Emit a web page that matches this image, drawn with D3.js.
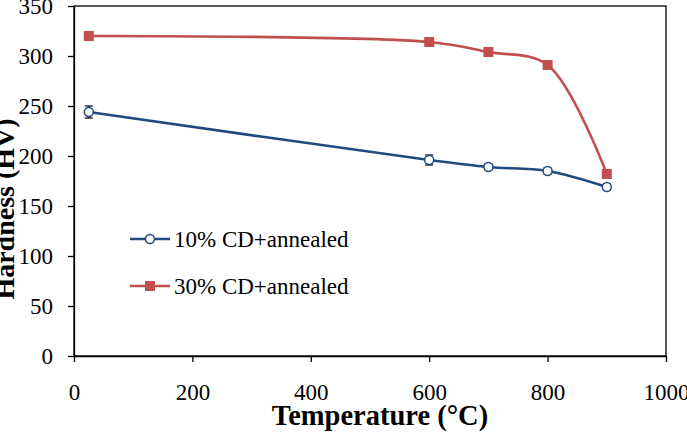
<!DOCTYPE html>
<html>
<head>
<meta charset="utf-8">
<script src="https://cdn.jsdelivr.net/npm/d3@7"></script>
<style>
    body { margin: 0; background: #fff; }
</style>
</head>
<body>
<div id="chart"></div>
<script>
// data
const temps = [25, 600, 700, 800, 900];
const hardness10 = [244, 196, 189, 185, 169];
const err10 = [6, 5, 3, 3, 3];
const hardness30 = [320, 314, 304, 291, 182];
const err30 = [3, 3, 3, 3, 3];
const seriesNames = ["10% CD+annealed", "30% CD+annealed"];
const xTicks = [0, 200, 400, 600, 800, 1000];
const yTicks = [0, 50, 100, 150, 200, 250, 300, 350];

const FONT = "'Liberation Serif', 'Times New Roman', Times, serif";
const W = 687, H = 438;
const margin = { top: 6, right: 21, bottom: 82, left: 74 },
    width = W - margin.left - margin.right,
    height = H - margin.top - margin.bottom;

const blue = "#1f4a7e", red = "#c0504d";

const svg = d3.select("#chart")
    .append("svg")
    .attr("width", W)
    .attr("height", H)
    .attr("font-family", FONT);

const g = svg.append("g")
    .attr("transform", `translate(${margin.left},${margin.top})`);

const x = d3.scaleLinear().domain([0, 1000]).range([0, width]);
const y = d3.scaleLinear().domain([0, 350]).range([height, 0]);

// frame
g.append("rect")
    .attr("width", width)
    .attr("height", height)
    .attr("fill", "none")
    .attr("stroke", "#000")
    .attr("stroke-width", 1.3);

// axes
const xAxis = g.append("g")
    .attr("transform", `translate(0,${height})`)
    .call(d3.axisBottom(x).tickValues(xTicks).tickFormat(d3.format("d"))
        .tickSize(6).tickPadding(22).tickSizeOuter(0));
const yAxis = g.append("g")
    .call(d3.axisLeft(y).tickValues(yTicks).tickFormat(d3.format("d"))
        .tickSize(6).tickPadding(15).tickSizeOuter(0));

[xAxis, yAxis].forEach(a => {
    a.attr("font-family", FONT).attr("font-size", 23);
    a.select(".domain").attr("stroke", "#000").attr("stroke-width", 1.3);
    a.selectAll(".tick line").attr("stroke", "#000").attr("stroke-width", 1.3);
    a.selectAll(".tick text").attr("fill", "#000");
});

// axis titles
svg.append("text")
    .attr("x", 380)
    .attr("y", 425)
    .attr("text-anchor", "middle")
    .attr("font-weight", "bold")
    .attr("font-size", 28.5)
    .text("Temperature (°C)");

svg.append("text")
    .attr("transform", "translate(14,209) rotate(-90)")
    .attr("text-anchor", "middle")
    .attr("font-weight", "bold")
    .attr("font-size", 28)
    .text("Hardness (HV)");

const line = d3.line()
    .x(d => x(d.t))
    .y(d => y(d.v))
    .curve(d3.curveCatmullRom.alpha(0.5));

const series = [
    { name: seriesNames[0], vals: hardness10, err: err10, color: blue, marker: "circle" },
    { name: seriesNames[1], vals: hardness30, err: err30, color: red, marker: "square" }
];

series.forEach(s => {
    const pts = temps.map((t, i) => ({ t: t, v: s.vals[i], e: s.err[i] }));

    // error bars
    const eb = g.append("g").attr("stroke", "#000").attr("stroke-width", 1.2);
    pts.forEach(p => {
        eb.append("line")
            .attr("x1", x(p.t)).attr("x2", x(p.t))
            .attr("y1", y(p.v - p.e)).attr("y2", y(p.v + p.e));
        [p.v - p.e, p.v + p.e].forEach(v => {
            eb.append("line")
                .attr("x1", x(p.t) - 4).attr("x2", x(p.t) + 4)
                .attr("y1", y(v)).attr("y2", y(v));
        });
    });

    g.append("path")
        .datum(pts)
        .attr("d", line)
        .attr("fill", "none")
        .attr("stroke", s.color)
        .attr("stroke-width", 2.6);

    if (s.marker === "circle") {
        g.selectAll(null).data(pts).join("circle")
            .attr("cx", d => x(d.t))
            .attr("cy", d => y(d.v))
            .attr("r", 4.5)
            .attr("fill", "#fff")
            .attr("stroke", s.color)
            .attr("stroke-width", 1.5);
    } else {
        g.selectAll(null).data(pts).join("rect")
            .attr("x", d => x(d.t) - 5)
            .attr("y", d => y(d.v) - 5)
            .attr("width", 10)
            .attr("height", 10)
            .attr("fill", s.color);
    }
});

// legend
const legend = svg.append("g");
series.forEach((s, i) => {
    const ly = 239 + i * 47;
    legend.append("line")
        .attr("x1", 130).attr("x2", 170)
        .attr("y1", ly).attr("y2", ly)
        .attr("stroke", s.color)
        .attr("stroke-width", 2.6);
    if (s.marker === "circle") {
        legend.append("circle")
            .attr("cx", 150).attr("cy", ly).attr("r", 4.5)
            .attr("fill", "#fff").attr("stroke", s.color).attr("stroke-width", 1.5);
    } else {
        legend.append("rect")
            .attr("x", 145).attr("y", ly - 5).attr("width", 10).attr("height", 10)
            .attr("fill", s.color);
    }
    legend.append("text")
        .attr("x", 174)
        .attr("y", ly + 8)
        .attr("font-size", 23)
        .text(s.name);
});
</script>
</body>
</html>
